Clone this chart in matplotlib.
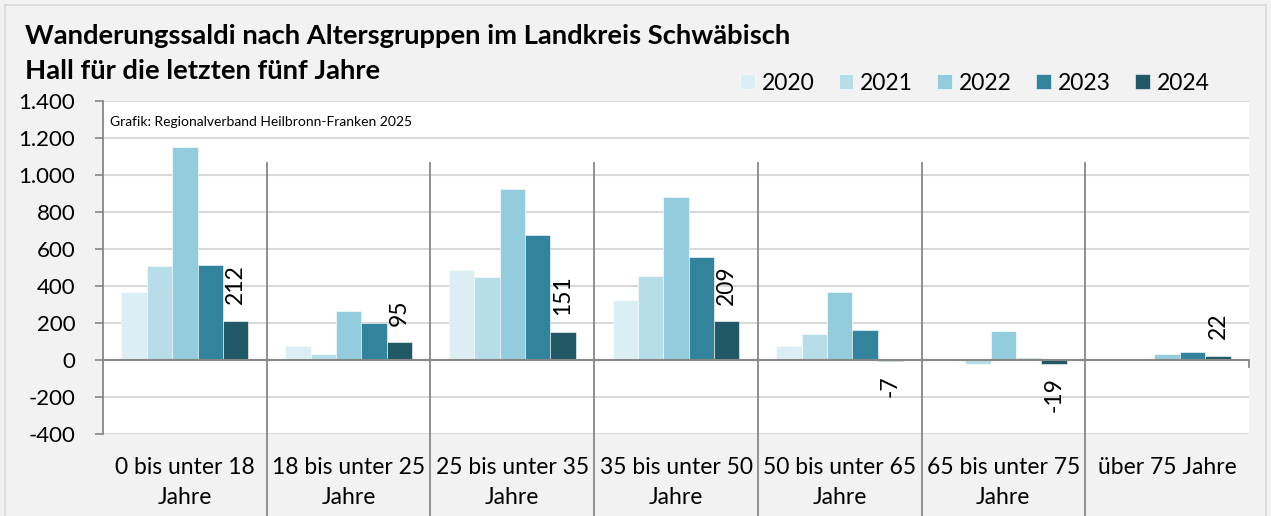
import matplotlib.pyplot as plt
import matplotlib.transforms as mtransforms
from matplotlib.patches import Rectangle
import numpy as np

plt.rcParams['font.family'] = ['Lato', 'DejaVu Sans']

categories = ['0 bis unter 18\nJahre', '18 bis unter 25\nJahre', '25 bis unter 35\nJahre',
              '35 bis unter 50\nJahre', '50 bis unter 65\nJahre', '65 bis unter 75\nJahre',
              'über 75 Jahre']
years = ['2020', '2021', '2022', '2023', '2024']
v2020 = [365, 76, 489, 325, 76, 2, 0]
v2021 = [507, 31, 447, 453, 138, -20, 0]
v2022 = [1149, 267, 922, 880, 365, 158, 35]
v2023 = [511, 198, 673, 558, 160, 11, 45]
v2024 = [212, 95, 151, 209, -7, -19, 22]
series = [v2020, v2021, v2022, v2023, v2024]
colors = ['#dbeef4', '#b7dde8', '#93cddd', '#31849b', '#215967']
yticks = [-400, -200, 0, 200, 400, 600, 800, 1000, 1200, 1400]

W, H = 1271, 516
fig = plt.figure(figsize=(W / 100, H / 100), dpi=100)
fig.patch.set_facecolor('#f2f2f2')
fig.patches.append(Rectangle((5 / W, -0.05), (W - 10) / W, 1 - 5 / H + 0.05,
                             transform=fig.transFigure, fill=False,
                             edgecolor='#d9d9d9', linewidth=1.2))

ax = fig.add_axes([103 / W, 1 - 434 / H, (1249 - 103) / W, (434 - 101) / H])
ax.set_facecolor('white')

x = np.arange(len(categories))
bw = 0.155
bars = []
for i, (vals, col, yr) in enumerate(zip(series, colors, years)):
    b = ax.bar(x + (i - 2) * bw, vals, width=bw, color=col, edgecolor='white',
               linewidth=0.4, label=yr, zorder=3)
    bars.append(b)

# data labels for 2024
for xi, v in zip(x, v2024):
    off = 12 if v >= 0 else -10
    ax.annotate(str(v), (xi + 2 * bw, v), xytext=(0, off), textcoords='offset points',
                rotation=90, ha='center', va='bottom' if v >= 0 else 'top',
                fontsize=16.5, color='black', zorder=4)

ax.set_ylim(-400, 1400)
ax.set_xlim(-0.5, len(categories) - 0.5)
ax.set_yticks(yticks)
ax.set_yticklabels([f'{t:,}'.replace(',', '.') for t in yticks])
ax.yaxis.grid(True, color='#d9d9d9', linewidth=1.5, zorder=0)
ax.tick_params(axis='y', length=6, width=1.2, color='#878787', pad=14, labelsize=16)
ax.set_xticks([])
for s in ['top', 'right', 'bottom']:
    ax.spines[s].set_visible(False)
ax.spines['left'].set_color('#878787')
ax.spines['left'].set_linewidth(1.3)
ax.axhline(0, color='#878787', linewidth=1.5, zorder=4)
ax.plot([len(categories) - 0.5] * 2, [0, -40], color='#878787', linewidth=1.3,
        clip_on=False, zorder=4)

# category separators reaching into the label area
trans = mtransforms.blended_transform_factory(ax.transData, fig.transFigure)
for b in np.arange(0.5, len(categories) - 0.5):
    ax.plot([b, b], [1 - 163 / H, 0], transform=trans, color='#878787',
            linewidth=1.3, clip_on=False, zorder=5)

for xi, lab in zip(x, categories):
    ax.text(xi, 1 - 457 / H, lab, transform=trans, ha='center', va='top',
            fontsize=16.5, linespacing=1.55)

fig.text(25 / W, 1 - 44 / H, 'Wanderungssaldi nach Altersgruppen im Landkreis Schwäbisch',
         fontsize=19.7, fontweight='bold', va='baseline')
fig.text(25 / W, 1 - 79 / H, 'Hall für die letzten fünf Jahre',
         fontsize=19.7, fontweight='bold', va='baseline')
ax.text(110 / W, 1 - 122 / H, 'Grafik: Regionalverband Heilbronn-Franken 2025',
        transform=fig.transFigure, fontsize=10, va='center')

leg = ax.legend(handles=bars, loc='center left', bbox_to_anchor=(740 / W, 1 - 83 / H),
                bbox_transform=fig.transFigure, ncol=5, frameon=False, fontsize=16.5,
                handlelength=0.65, handleheight=0.65, handletextpad=0.3,
                columnspacing=1.05, borderaxespad=0, borderpad=0)

fig.savefig('out.png', dpi=100, facecolor=fig.get_facecolor())
